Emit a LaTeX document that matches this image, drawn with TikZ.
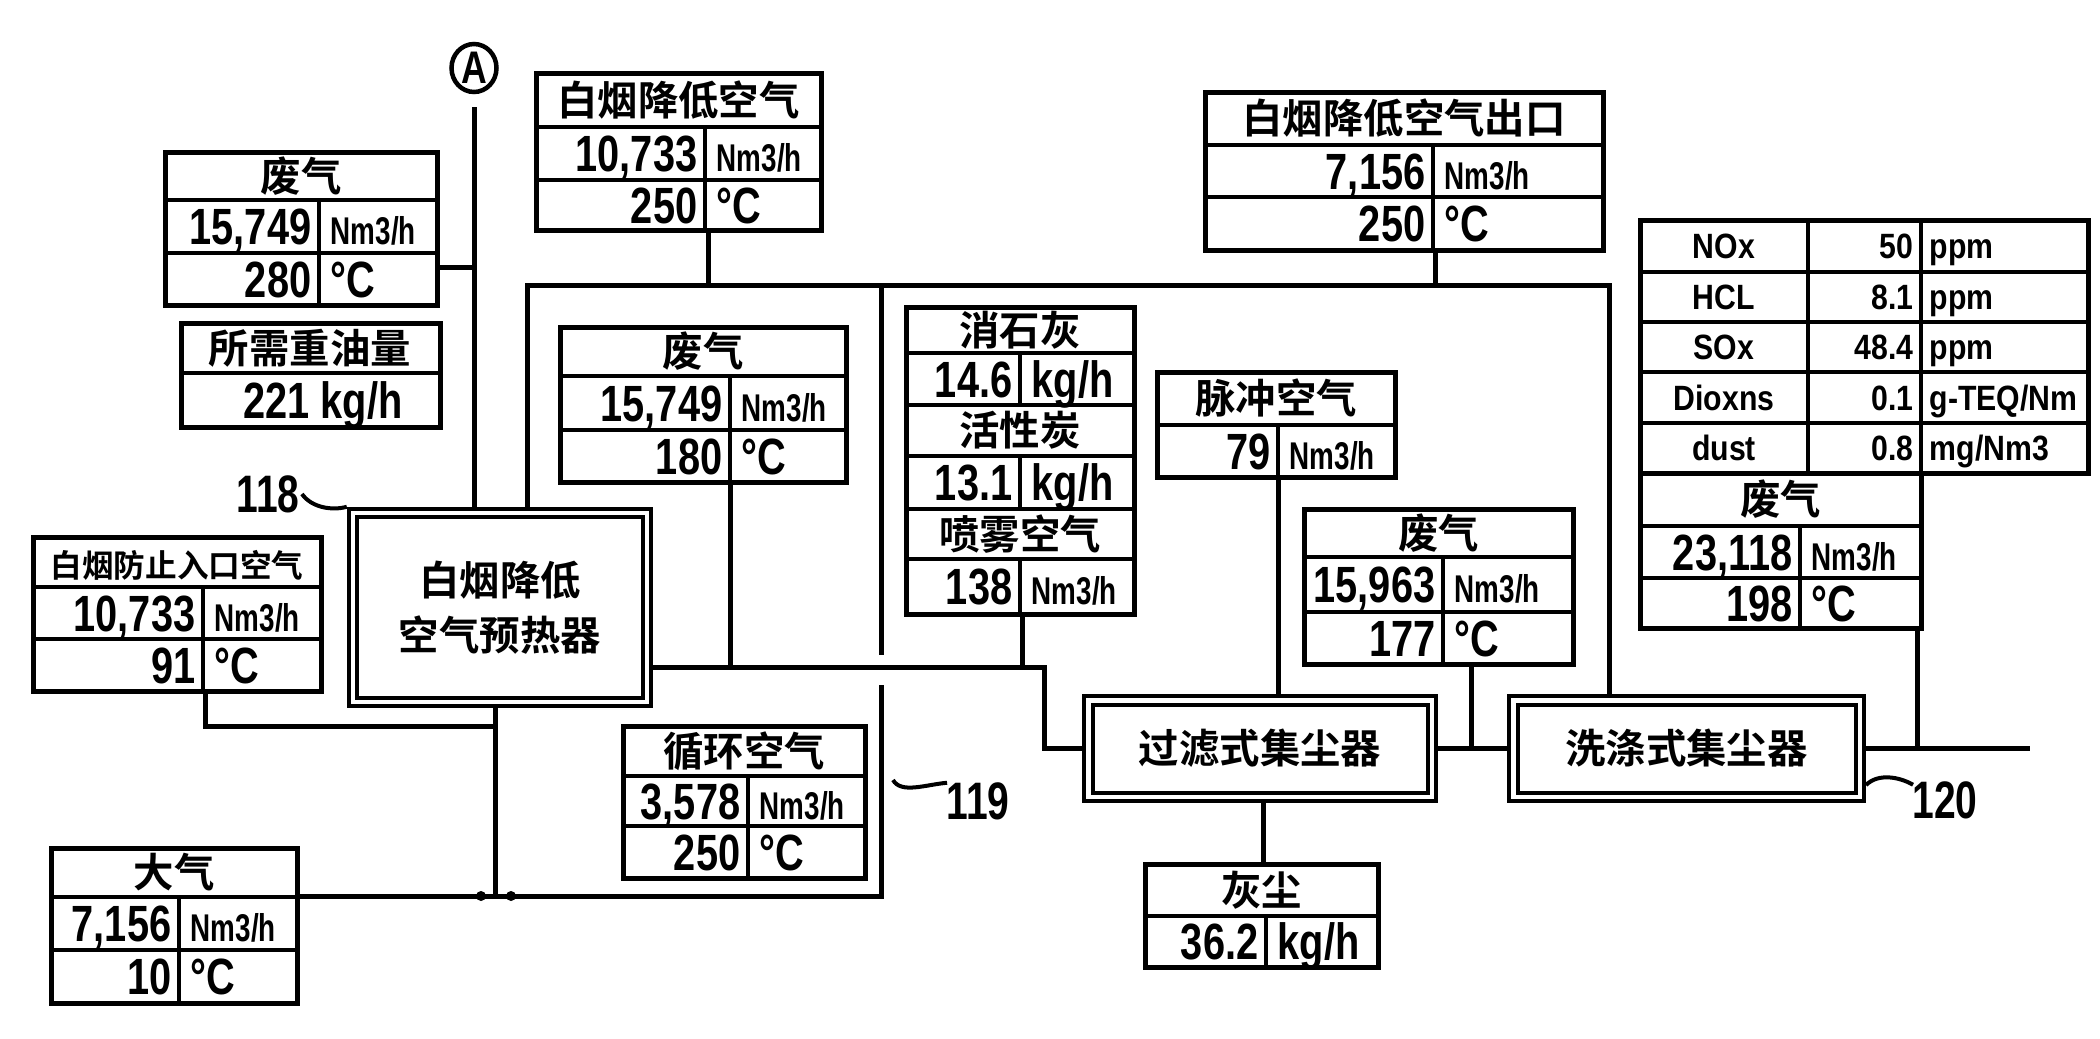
\documentclass[tikz,border=0pt]{standalone}
\usepackage{fontspec}
\usetikzlibrary{shapes.geometric}
\newfontfamily\cjk{Noto Sans CJK SC Bold}
\newfontfamily\numf{Liberation Sans Bold}[FakeStretch=0.78]
\newfontfamily\unitf{Liberation Sans Bold}[FakeStretch=0.72]
\newfontfamily\rtf{Liberation Sans Bold}[FakeStretch=0.86]
\newfontfamily\labf{Liberation Sans Bold}[FakeStretch=0.74]
\newcommand\NM{{\unitf\fontsize{11}{12}\selectfont Nm3/h}}
% three-row table: name, x1, y1, x2, y2, row1, row2, column
\newcommand\tgeom[8]{%
  \def\tN{#1}\def\tXa{#2}\def\tYa{#3}\def\tXb{#4}\def\tYb{#5}\def\tRa{#6}\def\tRb{#7}\def\tC{#8}%
  \node[tbox, minimum width={(#4-#2)*0.1mm}, minimum height={(#5-#3)*0.1mm}] (#1) at ({(#2+#4)/2},{(#3+#5)/2}) {};
  \draw[cell] (#2,#6) -- (#4,#6) (#2,#7) -- (#4,#7) (#8,#6) -- (#8,#5);
}
\newcommand\ttext[5]{%
  \node[hdr] (\tN-h) at ({(\tXa+\tXb)/2},{(\tYa+\tRa)/2}) {#1};
  \node[num] (\tN-a) at ({\tC-7},{(\tRa+\tRb)/2}) {#2};
  \node[unitn] (\tN-b) at ({\tC+11},{(\tRa+\tRb)/2}) {#3};
  \node[num] (\tN-c) at ({\tC-7},{(\tRb+\tYb)/2}) {#4};
  \node[unitn] (\tN-d) at ({\tC+11},{(\tRb+\tYb)/2}) {#5};
}
% two-row table: name, x1, y1, x2, y2, row, column
\newcommand\tgeomtwo[7]{%
  \def\tN{#1}\def\tXa{#2}\def\tYa{#3}\def\tXb{#4}\def\tYb{#5}\def\tRa{#6}\def\tC{#7}%
  \node[tbox, minimum width={(#4-#2)*0.1mm}, minimum height={(#5-#3)*0.1mm}] (#1) at ({(#2+#4)/2},{(#3+#5)/2}) {};
  \draw[cell] (#2,#6) -- (#4,#6) (#7,#6) -- (#7,#5);
}
\newcommand\ttexttwo[3]{%
  \node[hdr] (\tN-h) at ({(\tXa+\tXb)/2},{(\tYa+\tRa)/2}) {#1};
  \node[num] (\tN-a) at ({\tC-7},{(\tRa+\tYb)/2}) {#2};
  \node[unitn] (\tN-b) at ({\tC+11},{(\tRa+\tYb)/2}) {#3};
}
\tikzset{
  tbox/.style={draw, line width=0.5mm, inner sep=0pt, outer sep=0pt},
  cell/.style={line width=0.45mm},
  dbox/.style={draw, line width=0.4mm, double, double distance=0.45mm, inner sep=0pt,
    outer sep=0.625mm, align=center, font=\cjk\fontsize{11.5}{15.6}\selectfont},
  conn/.style={line width=0.5mm},
  leader/.style={line width=0.4mm},
  hdr/.style={font=\cjk\fontsize{11.5}{13}\selectfont, inner sep=0pt, text height=10.1pt, text depth=1.4pt},
  num/.style={font=\numf\fontsize{14.5}{16}\selectfont, inner sep=0pt, anchor=east, text height=10.4pt, text depth=0pt},
  unitn/.style={font=\numf\fontsize{14.5}{16}\selectfont, inner sep=0pt, anchor=west, text height=10.4pt, text depth=0pt},
  rtxt/.style={font=\rtf\fontsize{10}{11}\selectfont, inner sep=0pt, text height=7.2pt, text depth=0pt},
  lab/.style={font=\labf\fontsize{15}{15}\selectfont, inner sep=0.5pt, text height=10.7pt, text depth=0pt},
  dotn/.style={circle, fill, inner sep=0pt, minimum size=1.0mm},
}
\begin{document}
\begin{tikzpicture}[x=0.1mm,y=-0.1mm]
\fill[white] (0,0) rectangle (2100,1038);
\useasboundingbox (0,0) rectangle (2100,1038);

% ---------- main equipment ----------
\node[dbox, minimum width=29.4mm, minimum height=18.9mm] (hx) at (500,607.5) {白烟降低\\空气预热器};
\node[dbox, minimum width=34.35mm, minimum height=9.65mm] (ff) at (1260,748.5) {过滤式集尘器};
\node[dbox, minimum width=34.65mm, minimum height=9.65mm] (sc) at (1686.5,748.5) {洗涤式集尘器};

\node[ellipse, draw, line width=0.45mm, minimum width=4.5mm, minimum height=4.8mm, inner sep=0pt,
      font=\numf\fontsize{13}{13}\selectfont] (nA) at (474,68) {A};

% ---------- tables ----------
\tgeom{fg1}{165}{152}{437}{305}{200}{253}{319}
\ttext{废气}{15,749}{\NM}{280}{°C}

\tgeomtwo{fo}{181}{323}{440}{427}{373}{440}
\node[hdr] (fo-h) at (310,348) {所需重油量};
\node[unitn, anchor=center] (fo-a) at (323,400) {221 kg/h};

\tgeom{wa1}{536}{73}{821}{230}{127}{180}{705}
\ttext{白烟降低空气}{10,733}{\NM}{250}{°C}

\tgeom{wa2}{1205}{92}{1603}{250}{145}{197}{1433}
\ttext{白烟降低空气出口}{7,156}{\NM}{250}{°C}

\tgeom{fg2}{560}{327}{846}{482}{376}{430}{730}
\ttext{废气}{15,749}{\NM}{180}{°C}

% lime / carbon / spray air
\node[tbox, minimum width=22.8mm, minimum height=30.7mm] (ls) at (1020,460.5) {};
\draw[cell] (906,353) -- (1134,353) (906,405) -- (1134,405) (906,456) -- (1134,456)
  (906,509) -- (1134,509) (906,559) -- (1134,559)
  (1020,353) -- (1020,405) (1020,456) -- (1020,509) (1020,559) -- (1020,614);
\node[hdr] (ls-h1) at (1020,330) {消石灰};
\node[num] (ls-a) at (1013,379) {14.6};
\node[unitn] (ls-b) at (1031,379) {kg/h};
\node[hdr] (ls-h2) at (1020,430.5) {活性炭};
\node[num] (ls-c) at (1013,482.5) {13.1};
\node[unitn] (ls-d) at (1031,482.5) {kg/h};
\node[hdr] (ls-h3) at (1020,534) {喷雾空气};
\node[num] (ls-e) at (1013,586.5) {138};
\node[unitn] (ls-f) at (1031,586.5) {\NM};

\tgeomtwo{pa}{1157}{372}{1395}{477}{425}{1278}
\ttexttwo{脉冲空气}{79}{\NM}

\tgeom{fg3}{1304}{509}{1573}{664}{557}{612}{1443}
\ttext{废气}{15,963}{\NM}{177}{°C}

\tgeomtwo{ga}{1145}{864}{1378}{967}{916}{1266}
\ttexttwo{灰尘}{36.2}{kg/h}

\tgeom{sa}{33}{537}{321}{691}{587}{639}{203}
\ttext{\fontsize{9}{10}\selectfont 白烟防止入口空气}{10,733}{\NM}{91}{°C}

\tgeom{ta}{51}{848}{297}{1003}{897}{950}{179}
\ttext{大气}{7,156}{\NM}{10}{°C}

\tgeom{ra}{623}{726}{865}{878}{776}{826}{748}
\ttext{循环空气}{3,578}{\NM}{250}{°C}

% emission table
\node[tbox, minimum width=44.8mm, minimum height=25.3mm] (rt) at (1864,346.5) {};
\draw[cell] (1640,272) -- (2088,272) (1640,322) -- (2088,322) (1640,372) -- (2088,372)
  (1640,423) -- (2088,423) (1808,220) -- (1808,473) (1921,220) -- (1921,473);
\foreach \i/\a/\b/\c/\y in {1/NOx/50/ppm/246, 2/HCL/8.1/ppm/297, 3/SOx/48.4/ppm/347,
    4/Dioxns/0.1/g-TEQ\slash Nm/397.5, 5/dust/0.8/mg\slash Nm3/448}{
  \node[rtxt] (rt-k\i) at (1724,\y) {\a};
  \node[rtxt, anchor=east] (rt-v\i) at (1914,\y) {\b};
  \node[rtxt, anchor=west] (rt-u\i) at (1929,\y) {\c};
}
\tgeom{rtl}{1640}{473}{1921}{628}{526}{578}{1800}
\ttext{废气}{23,118}{\NM}{198}{°C}

% ---------- connectors ----------
\coordinate (j1) at (474,267);
\coordinate (busL) at (527,285);
\coordinate (busR) at (1609,285);
\coordinate (w1) at (708,0);
\coordinate (w2) at (1435,0);
\coordinate (rc) at (881,0);
\coordinate (rcA) at (881,655);
\coordinate (rcB) at (881,685);
\coordinate (bot) at (881,896);
\coordinate (hb) at (495,0);
\coordinate (sb) at (205,726);
\coordinate (g2) at (730,0);
\coordinate (ml) at (1044,667);
\coordinate (l1) at (1022,0);
\coordinate (p1) at (1278,0);
\coordinate (f1) at (1263,0);
\coordinate (g3) at (1471,0);
\coordinate (out) at (2030,0);
\coordinate (r1) at (1917,0);
\coordinate (k119) at (893,780);

\draw[conn] ([yshift=-1.3mm]nA.south) -- (nA.south |- hx.north);
\draw[conn] (fg1.east |- j1) -- (j1);
\draw[conn] (busL |- hx.north) -- (busL) -- (busR) -- (busR |- sc.north);
\draw[conn] (w1 |- wa1.south) -- (w1 |- busL);
\draw[conn] (w2 |- wa2.south) -- (w2 |- busL);
\draw[conn] (rc |- busL) -- (rcA);
\draw[conn] (rcB) -- (bot) -- (ta.east |- bot);
\draw[conn] (hb |- hx.south) -- (hb |- bot);
\draw[conn] (sa.south -| sb) -- (sb) -- (hb |- sb);
\draw[conn] (g2 |- fg2.south) -- (g2 |- ml);
\draw[conn] (hx.east |- ml) -- (ml) |- (ff.west);
\draw[conn] (l1 |- ls.south) -- (l1 |- ml);
\draw[conn] (p1 |- pa.south) -- (p1 |- ff.north);
\draw[conn] (f1 |- ff.south) -- (f1 |- ga.north);
\draw[conn] (ff.east) -- (sc.west);
\draw[conn] (g3 |- fg3.south) -- (g3 |- ff.east);
\draw[conn] (sc.east) -- (out |- sc.east);
\draw[conn] (r1 |- rtl.south) -- (r1 |- sc.east);

\node[dotn] (d1) at (481,896) {};
\node[dotn] (d2) at (511,896) {};

% ---------- reference numerals ----------
\node[lab] (l118) at (268,494) {118};
\node[lab] (l119) at (978,801) {119};
\node[lab] (l120) at (1945,800) {120};
\draw[leader] (l118.east) .. controls +(10,14) and +(-14,4) .. (hx.north west);
\draw[leader] (k119) .. controls +(8,14) and +(-22,2) .. ([xshift=0.3mm,yshift=-0.3mm]l119.north west);
\draw[leader] ([yshift=1.8mm]sc.south east) .. controls +(12,-12) and +(-14,-8) .. ([xshift=0.3mm,yshift=-0.6mm]l120.north west);
\end{tikzpicture}
\end{document}
